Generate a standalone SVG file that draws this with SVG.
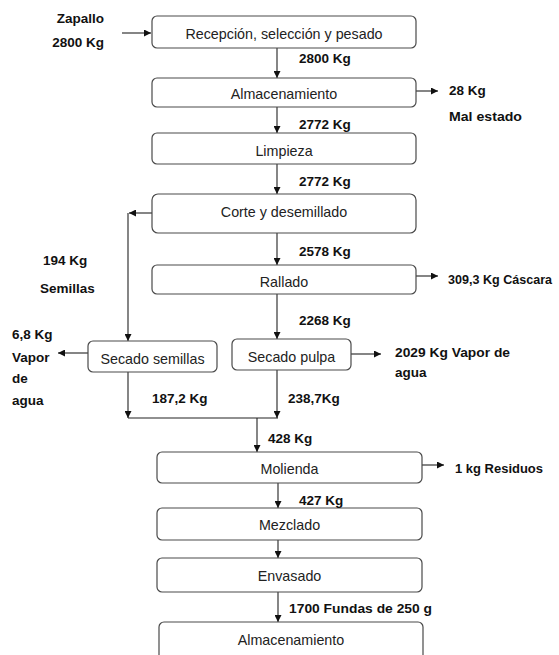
<svg xmlns="http://www.w3.org/2000/svg" width="559" height="655" viewBox="0 0 559 655">
  <defs>
    <marker id="arrow" viewBox="0 0 10 10" refX="10" refY="5" markerWidth="7" markerHeight="7" markerUnits="userSpaceOnUse" orient="auto">
      <path d="M0,0 L10,5 L0,10 Z" fill="#111"/>
    </marker>
  </defs>
  <style>
    .box { fill: #ffffff; stroke: #4a4a4a; stroke-width: 1.2; }
    .step { font-family: "Liberation Sans", Arial, sans-serif; font-size: 14.3px; fill: #222; text-anchor: middle; }
    .qty { font-family: "Liberation Sans", Arial, sans-serif; font-size: 13.5px; font-weight: bold; fill: #111; }
    .flow { fill: none; stroke: #222; stroke-width: 1.1; }
    .flow.arr { marker-end: url(#arrow); }
  </style>
  <rect width="559" height="655" fill="#ffffff"/>

  <!-- connectors -->
  <g id="connectors">
    <line class="flow arr" x1="122" y1="33" x2="151" y2="33"/>
    <line class="flow arr" x1="277" y1="48" x2="277" y2="78"/>
    <line class="flow arr" x1="416" y1="91" x2="438" y2="91"/>
    <line class="flow arr" x1="277" y1="107" x2="277" y2="133"/>
    <line class="flow arr" x1="277" y1="164" x2="277" y2="194"/>
    <line class="flow arr" x1="152" y1="213" x2="129" y2="213"/>
    <line class="flow arr" x1="128" y1="213" x2="128" y2="341"/>
    <line class="flow arr" x1="277" y1="233" x2="277" y2="265"/>
    <line class="flow arr" x1="416" y1="276" x2="438" y2="276"/>
    <line class="flow arr" x1="277" y1="294" x2="277" y2="339"/>
    <line class="flow arr" x1="88" y1="353" x2="58" y2="353"/>
    <line class="flow arr" x1="351" y1="354" x2="381" y2="354"/>
    <line class="flow arr" x1="128" y1="372" x2="128" y2="418"/>
    <line class="flow arr" x1="277" y1="370" x2="277" y2="418"/>
    <line class="flow" x1="128" y1="418" x2="278" y2="418"/>
    <line class="flow arr" x1="257" y1="418" x2="257" y2="452"/>
    <line class="flow arr" x1="422" y1="465" x2="444" y2="465"/>
    <line class="flow arr" x1="278" y1="483" x2="278" y2="508"/>
    <line class="flow arr" x1="278" y1="540" x2="278" y2="558"/>
    <line class="flow arr" x1="278" y1="592" x2="278" y2="622"/>
  </g>

  <!-- process steps -->
  <g id="recepcion">
    <rect class="box" x="152" y="16" width="264" height="32" rx="5"/>
    <text class="step" x="284" y="39">Recepción, selección y pesado</text>
  </g>
  <g id="almacenamiento-1">
    <rect class="box" x="152" y="78" width="264" height="29" rx="5"/>
    <text class="step" x="284" y="99">Almacenamiento</text>
  </g>
  <g id="limpieza">
    <rect class="box" x="152" y="133" width="264" height="31" rx="5"/>
    <text class="step" x="284" y="156">Limpieza</text>
  </g>
  <g id="corte">
    <rect class="box" x="152" y="194" width="264" height="39" rx="6"/>
    <text class="step" x="284" y="217">Corte y desemillado</text>
  </g>
  <g id="rallado">
    <rect class="box" x="152" y="265" width="264" height="29" rx="5"/>
    <text class="step" x="284" y="287">Rallado</text>
  </g>
  <g id="secado-semillas">
    <rect class="box" x="88" y="341" width="129" height="31" rx="5"/>
    <text class="step" x="152.5" y="364">Secado semillas</text>
  </g>
  <g id="secado-pulpa">
    <rect class="box" x="232" y="339" width="119" height="31" rx="5"/>
    <text class="step" x="291.5" y="362">Secado pulpa</text>
  </g>
  <g id="molienda">
    <rect class="box" x="157" y="452" width="265" height="31" rx="5"/>
    <text class="step" x="289.5" y="474">Molienda</text>
  </g>
  <g id="mezclado">
    <rect class="box" x="157" y="508" width="265" height="32" rx="5"/>
    <text class="step" x="289.5" y="530">Mezclado</text>
  </g>
  <g id="envasado">
    <rect class="box" x="157" y="558" width="265" height="34" rx="5"/>
    <text class="step" x="289.5" y="581">Envasado</text>
  </g>
  <g id="almacenamiento-2">
    <rect class="box" x="159" y="622" width="264" height="40" rx="5"/>
    <text class="step" x="291" y="645">Almacenamiento</text>
  </g>

  <!-- quantities -->
  <g id="labels">
    <text class="qty" x="104" y="23" text-anchor="end">Zapallo</text>
    <text class="qty" x="104" y="47" text-anchor="end">2800 Kg</text>
    <text class="qty" x="299" y="63">2800 Kg</text>
    <text class="qty" x="449" y="95">28 Kg</text>
    <text class="qty" x="449" y="121" textLength="73" lengthAdjust="spacingAndGlyphs">Mal estado</text>
    <text class="qty" x="299" y="129">2772 Kg</text>
    <text class="qty" x="299" y="186">2772 Kg</text>
    <text class="qty" x="299" y="256">2578 Kg</text>
    <text class="qty" x="448" y="284" textLength="104" lengthAdjust="spacingAndGlyphs">309,3 Kg Cáscara</text>
    <text class="qty" x="299" y="325">2268 Kg</text>
    <text class="qty" x="395" y="357" textLength="115" lengthAdjust="spacingAndGlyphs">2029 Kg Vapor de</text>
    <text class="qty" x="395" y="377">agua</text>
    <text class="qty" x="288" y="403">238,7Kg</text>
    <text class="qty" x="43" y="265">194 Kg</text>
    <text class="qty" x="40" y="293">Semillas</text>
    <text class="qty" x="12" y="339">6,8 Kg</text>
    <text class="qty" x="12" y="362">Vapor</text>
    <text class="qty" x="12" y="383">de</text>
    <text class="qty" x="12" y="405">agua</text>
    <text class="qty" x="152" y="403">187,2 Kg</text>
    <text class="qty" x="268" y="443">428 Kg</text>
    <text class="qty" x="455" y="473" textLength="88" lengthAdjust="spacingAndGlyphs">1 kg Residuos</text>
    <text class="qty" x="299" y="505">427 Kg</text>
    <text class="qty" x="289" y="613" textLength="143" lengthAdjust="spacingAndGlyphs">1700 Fundas de 250 g</text>
  </g>
</svg>
